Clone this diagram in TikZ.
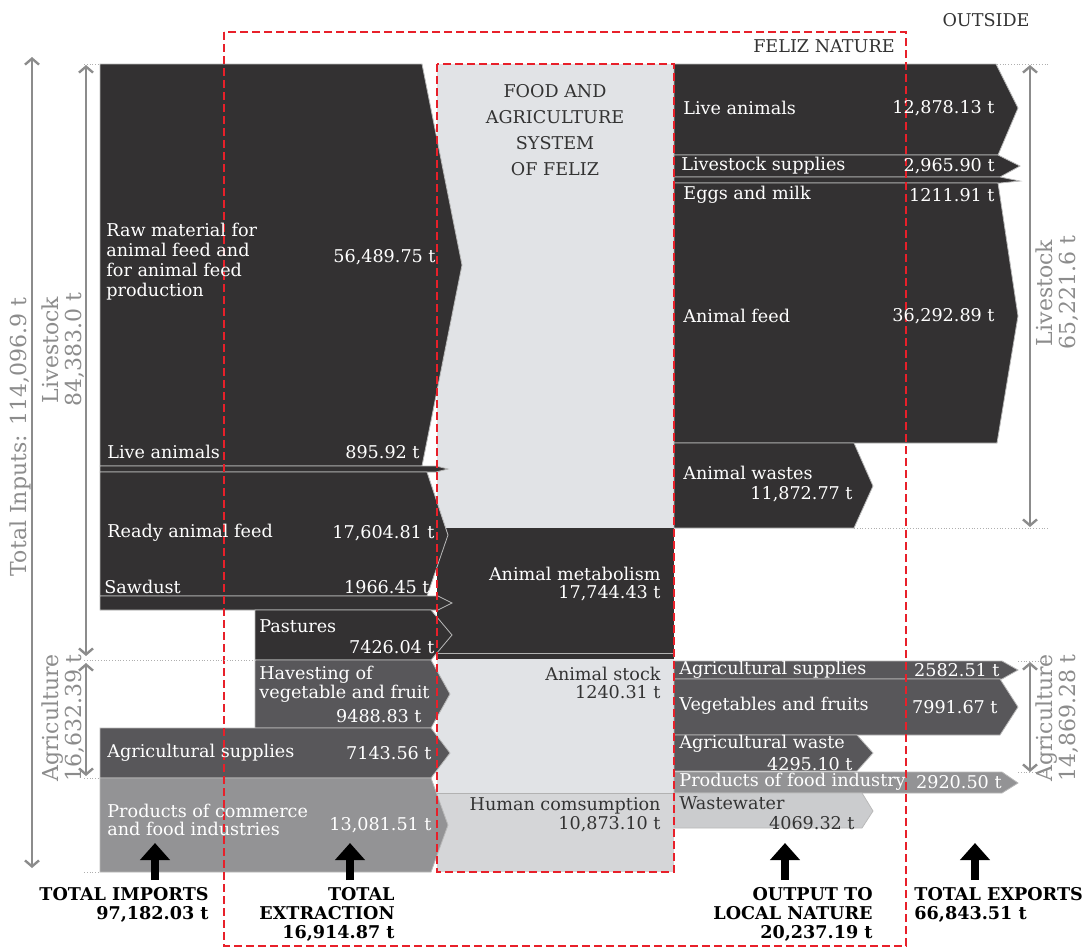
\documentclass[tikz,border=0pt]{standalone}
\usepackage{fontspec}
\setmainfont{DejaVu Serif}
\usepackage{tikz}
\usetikzlibrary{arrows.meta}

\definecolor{flowdark}{HTML}{333132}
\definecolor{flowmid}{HTML}{58575A}
\definecolor{flowlight}{HTML}{939395}
\definecolor{flowpale}{HTML}{CBCCCE}
\definecolor{sysbg}{HTML}{E1E3E6}
\definecolor{humanbg}{HTML}{D5D6D8}
\definecolor{feliz}{HTML}{E8202A}
\definecolor{measure}{HTML}{8C8C8C}
\definecolor{txtdark}{HTML}{333333}

\tikzset{
	flow/.style={draw=gray!55, line width=0.4pt},
	txt/.style={inner sep=0pt, text=white, font=\fontsize{8.8}{9.4}\selectfont},
	dtxt/.style={txt, text=txtdark},
	boldtxt/.style={inner sep=0pt, text=black, font=\bfseries\fontsize{8.8}{9.5}\selectfont},
	redbox/.style={draw=feliz, line width=1.4pt, dash pattern=on 4.2pt off 1.8pt},
	spanarrow/.style={draw=measure, line width=1.2pt, {Straight Barb[length=3pt,width=7pt]}-{Straight Barb[length=3pt,width=7pt]}},
	guide/.style={draw=measure!70, line width=0.4pt, densely dotted},
	spantxt/.style={inner sep=0pt, text=measure, rotate=90, align=center, font=\fontsize{11}{11.5}\selectfont},
	bigarrow/.style={line width=4.3pt, -{Triangle[length=8.5pt,width=14.5pt]}}
}

\begin{document}
\begin{tikzpicture}[x=0.5pt,y=-0.5pt]
	\useasboundingbox (0,0) rectangle (1082,950);
	% System of Feliz
	\fill[sysbg] (437,64) rectangle (674,872);
	\fill[humanbg] (437,793) rectangle (674,872);
	\draw[gray!60, line width=0.4pt] (437,793) -- (674,793);
	\fill[flowdark] (437,528) rectangle (674,659);
	\draw[gray!60, line width=0.4pt] (437,653) -- (674,653);
	% Inputs, livestock
	\draw[flow, fill=flowdark] (100,64) -- (422,64) -- (462,265) -- (422,466) -- (100,466) -- cycle;
	\draw[flow, fill=flowdark] (100,466) -- (436,466) -- (448,469) -- (436,472) -- (100,472) -- cycle;
	\draw[flow, fill=flowdark] (100,472) -- (427,472) -- (448,535) -- (427,596) -- (100,596) -- cycle;
	\draw[flow, fill=flowdark] (100,596) -- (438,596) -- (452,603) -- (438,610) -- (100,610) -- cycle;
	\draw[flow, fill=flowdark] (255,610) -- (431,610) -- (452,635) -- (431,660) -- (255,660) -- cycle;
	% Inputs, agriculture
	\draw[flow, fill=flowmid] (255,660) -- (431,660) -- (450,694) -- (431,728) -- (255,728) -- cycle;
	\draw[flow, fill=flowmid] (100,728) -- (431,728) -- (450,753) -- (431,778) -- (100,778) -- cycle;
	\draw[flow, fill=flowlight] (100,778) -- (431,778) -- (448,825) -- (431,872) -- (100,872) -- cycle;
	% Outputs, livestock
	\draw[flow, fill=flowdark] (674,64) -- (996,64) -- (1018,108) -- (998,155) -- (674,155) -- cycle;
	\draw[flow, fill=flowdark] (674,155) -- (998,155) -- (1020,166) -- (1000,177) -- (674,177) -- cycle;
	\draw[flow, fill=flowdark] (674,177) -- (1000,177) -- (1020,181) -- (1000,183) -- (674,183) -- cycle;
	\draw[flow, fill=flowdark] (674,183) -- (998,183) -- (1018,316) -- (997,443) -- (674,443) -- cycle;
	\draw[flow, fill=flowdark] (674,443) -- (854,443) -- (873,486) -- (854,528) -- (674,528) -- cycle;
	% Outputs, agriculture
	\draw[flow, fill=flowmid] (674,661) -- (1002,661) -- (1018,670) -- (1002,679) -- (674,679) -- cycle;
	\draw[flow, fill=flowmid] (674,679) -- (1000,679) -- (1018,707) -- (1000,735) -- (674,735) -- cycle;
	\draw[flow, fill=flowmid] (674,735) -- (857,735) -- (873,753) -- (857,771) -- (674,771) -- cycle;
	\draw[flow, fill=flowlight] (674,772) -- (1002,772) -- (1018,783) -- (1002,793) -- (674,793) -- cycle;
	\draw[flow, fill=flowpale] (674,793) -- (862,793) -- (873,811) -- (862,828) -- (674,828) -- cycle;
	% Boundaries
	\draw[redbox] (224,32) rectangle (906,946);
	\draw[redbox] (437,64) rectangle (674,872);
	\node[dtxt, anchor=center] (outside) at (986,20) {OUTSIDE};
	\node[dtxt, anchor=east] (nature) at (895,46) {FELIZ NATURE};
	\node[dtxt, align=center, font=\fontsize{8.8}{13}\selectfont] (system) at (555,130) {FOOD AND\\AGRICULTURE\\SYSTEM\\OF FELIZ};
	% Labels of inputs
	\node[txt, anchor=west, align=left, font=\fontsize{8.8}{10}\selectfont] (rawmat) at (106,262) {Raw material for\\animal feed and\\for animal feed\\production};
	\node[txt, anchor=east] (rawmatval) at (436,257) {56,489.75 t};
	\node[txt, anchor=west] (liveanin) at (107,452) {Live animals};
	\node[txt, anchor=east] (liveaninval) at (420,452) {895.92 t};
	\node[txt, anchor=west] (readyfeed) at (107,533) {Ready animal feed};
	\node[txt, anchor=east] (readyfeedval) at (435,533) {17,604.81 t};
	\node[txt, anchor=west] (sawdust) at (104,587) {Sawdust};
	\node[txt, anchor=east] (sawdustval) at (430,587) {1966.45 t};
	\node[txt, anchor=west] (pastures) at (259,626) {Pastures};
	\node[txt, anchor=east] (pasturesval) at (435,647) {7426.04 t};
	\node[txt, anchor=west, align=left] (harvest) at (259,684) {Havesting of\\vegetable and fruit};
	\node[txt, anchor=east] (harvestval) at (422,716) {9488.83 t};
	\node[txt, anchor=west] (agrisupin) at (107,753) {Agricultural supplies};
	\node[txt, anchor=east] (agrisupinval) at (432,753) {7143.56 t};
	\node[txt, anchor=west, align=left] (commerce) at (107,820) {Products of commerce\\and food industries};
	\node[txt, anchor=east] (commerceval) at (432,825) {13,081.51 t};
	% Labels inside the system
	\node[txt, anchor=east, align=right] (metabolism) at (661,584) {Animal metabolism\\17,744.43 t};
	\node[dtxt, anchor=east, align=right] (stock) at (661,683) {Animal stock\\1240.31 t};
	\node[dtxt, anchor=east, align=right] (human) at (661,815) {Human comsumption\\10,873.10 t};
	% Labels of outputs
	\node[txt, anchor=west] (liveanout) at (683,108) {Live animals};
	\node[txt, anchor=east] (liveanoutval) at (995,108) {12,878.13 t};
	\node[txt, anchor=west] (livesup) at (681,166) {Livestock supplies};
	\node[txt, anchor=east] (livesupval) at (995,166) {2,965.90 t};
	\node[txt, anchor=west] (eggs) at (683,195) {Eggs and milk};
	\node[txt, anchor=east] (eggsval) at (995,195) {1211.91 t};
	\node[txt, anchor=west] (feedout) at (683,316) {Animal feed};
	\node[txt, anchor=east] (feedoutval) at (995,316) {36,292.89 t};
	\node[txt, anchor=west] (wastes) at (683,473) {Animal wastes};
	\node[txt, anchor=east] (wastesval) at (853,494) {11,872.77 t};
	\node[txt, anchor=west] (agrisupout) at (679,670) {Agricultural supplies};
	\node[txt, anchor=east] (agrisupoutval) at (1000,670) {2582.51 t};
	\node[txt, anchor=west] (vegfruit) at (679,706) {Vegetables and fruits};
	\node[txt, anchor=east] (vegfruitval) at (998,707) {7991.67 t};
	\node[txt, anchor=west] (agriwaste) at (679,744) {Agricultural waste};
	\node[txt, anchor=east] (agriwasteval) at (853,764) {4295.10 t};
	\node[txt, anchor=west] (fooddind) at (679,782) {Products of food industry};
	\node[txt, anchor=east] (fooddindval) at (1002,782) {2920.50 t};
	\node[dtxt, anchor=west] (wastewater) at (679,803) {Wastewater};
	\node[dtxt, anchor=east] (wastewaterval) at (855,823) {4069.32 t};
	% Totals on the sides
	\coordinate (inTop) at (32,57);   \coordinate (inBot) at (32,868);
	\coordinate (lsTop) at (86,65);   \coordinate (lsBot) at (86,656);
	\coordinate (agTop) at (86,663);  \coordinate (agBot) at (86,776);
	\coordinate (olsTop) at (1030,65);  \coordinate (olsBot) at (1030,527);
	\coordinate (oagTop) at (1030,662); \coordinate (oagBot) at (1030,772);
	\foreach \a/\b in {inTop/inBot, lsTop/lsBot, agTop/agBot, olsTop/olsBot, oagTop/oagBot}
		\draw[spanarrow] (\a) -- (\b);
	\draw[guide] (84,64) -- (100,64);
	\draw[guide] (84,660) -- (255,660);
	\draw[guide] (84,778) -- (100,778);
	\draw[guide] (84,872) -- (100,872);
	\draw[guide] (997,64) -- (1048,64);
	\draw[guide] (854,528) -- (1048,528);
	\draw[guide] (1018,661) -- (1048,661);
	\draw[guide] (1018,772) -- (1048,772);
	\node[spantxt] (totalin) at (20,437) {Total Inputs: 114,096.9 t};
	\node[spantxt] (livestockin) at (63,350) {Livestock\\84,383.0 t};
	\node[spantxt] (agriin) at (63,718) {Agriculture\\16,632.39 t};
	\node[spantxt] (livestockout) at (1057,293) {Livestock\\65,221.6 t};
	\node[spantxt] (agriout) at (1057,718) {Agriculture\\14,869.28 t};
	% Totals at the bottom
	\foreach \ax/\nm in {155/imp, 350/ext, 785/loc, 975/exp} {
		\coordinate (\nm base) at (\ax,880);
		\coordinate (\nm tip) at (\ax,843);
		\draw[bigarrow] (\nm base) -- (\nm tip);
	}
	\node[boldtxt, anchor=north east, align=right] (imports) at (209,887) {TOTAL IMPORTS\\97,182.03 t};
	\node[boldtxt, anchor=north east, align=right] (extraction) at (395,887) {TOTAL\\EXTRACTION\\16,914.87 t};
	\node[boldtxt, anchor=north east, align=right] (localout) at (873,887) {OUTPUT TO\\LOCAL NATURE\\20,237.19 t};
	\node[boldtxt, anchor=north west, align=left] (exports) at (914,887) {TOTAL EXPORTS\\66,843.51 t};
\end{tikzpicture}
\end{document}
